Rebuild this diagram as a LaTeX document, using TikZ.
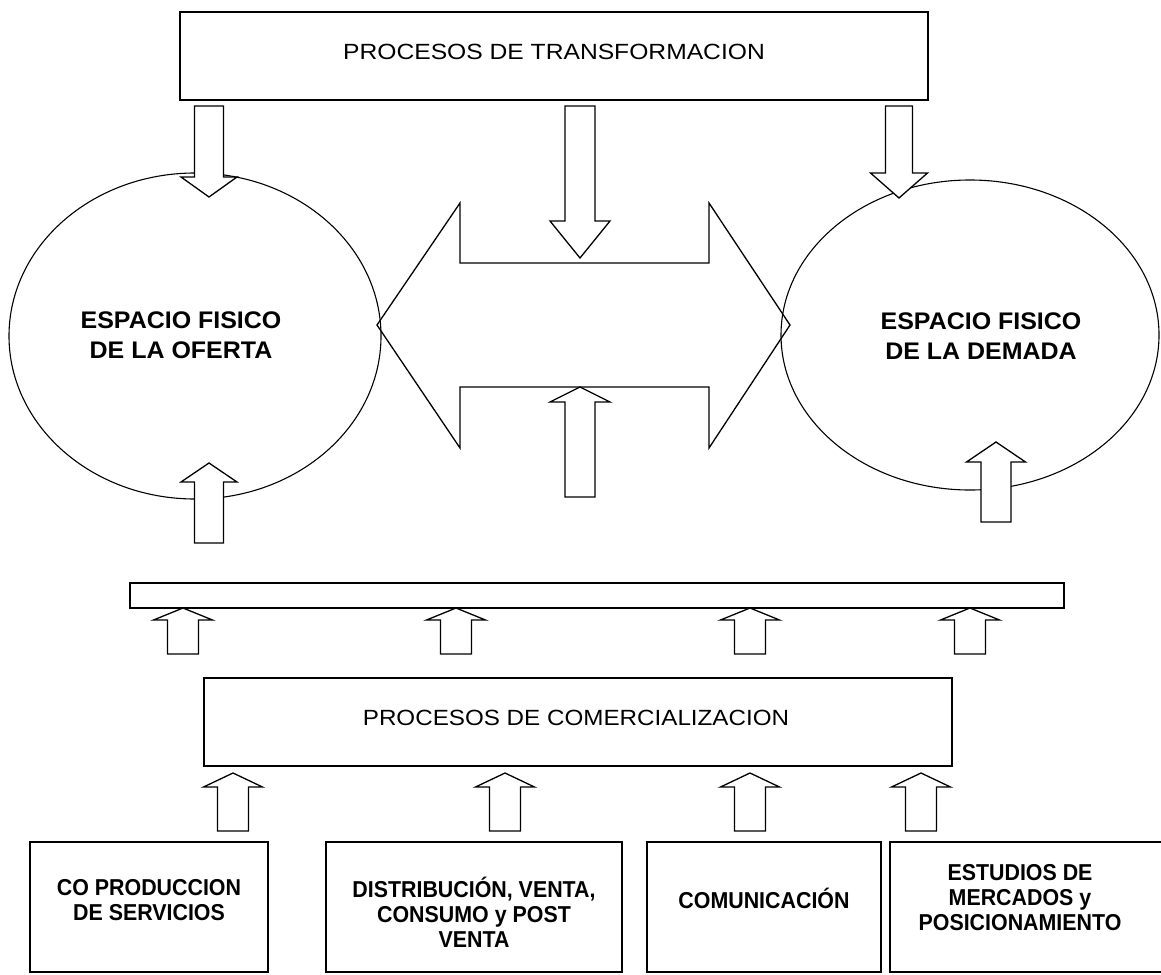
\documentclass[tikz,border=0pt]{standalone}
\usepackage{fontspec}
\setmainfont{Liberation Sans}
\usetikzlibrary{shapes.geometric}
\tikzset{
  blk/.style={draw=black, fill=white, line width=1.3pt, line join=miter},
  box/.style={draw=black, line width=1.3pt, rectangle, inner sep=0pt},
  plain/.style={font=\fontsize{22}{26}\selectfont},
  boldlab/.style={font=\bfseries\fontsize{24}{30}\selectfont, align=center},
  boxlab/.style={font=\bfseries\fontsize{23}{25}\selectfont, align=center},
}
% cx, tip y, head-base y, tail y, head half width, shaft half width
\newcommand\blkarr[6]{%
  \draw[blk] (#1,#2) -- ({#1+#5},#3) -- ({#1+#6},#3) -- ({#1+#6},#4)
    -- ({#1-#6},#4) -- ({#1-#6},#3) -- ({#1-#5},#3) -- cycle;}
\newcommand\narrow[1]{\scalebox{0.93}[1]{#1}}
\begin{document}
\begin{tikzpicture}[x=1pt,y=-1pt]
\useasboundingbox[fill=white] (0,0) rectangle (1161,974);
% top box
\node[box, minimum width=748pt, minimum height=88pt] (tr) at (554,56) {};
\node[plain] (trt) at (554,52) {\scalebox{1.12}[1]{PROCESOS DE TRANSFORMACION}};
% ellipses
\node[draw, line width=1.1pt, ellipse, inner sep=0pt, minimum width=372pt, minimum height=326pt] (of) at (195,336) {};
\node[draw, line width=1.1pt, ellipse, inner sep=0pt, minimum width=378pt, minimum height=310pt] (de) at (970,335) {};
\node[boldlab] (oft) at (181,335) {\scalebox{1.04}[1]{ESPACIO FISICO}\\\scalebox{1.04}[1]{DE LA OFERTA}};
\node[boldlab] (det) at (981,336) {\scalebox{1.04}[1]{ESPACIO FISICO}\\\scalebox{1.04}[1]{DE LA DEMADA}};
% double arrow
\draw[line width=1.3pt, line join=miter] (377,325) -- (460,203) -- (460,263) -- (709,263) -- (709,203) -- (790,325)
  -- (709,448) -- (709,387) -- (460,387) -- (460,448) -- cycle;
% down arrows from top box
\blkarr{209}{197}{177}{106}{28}{14.5}
\blkarr{580}{258}{221}{106}{30}{15}
\blkarr{899}{198}{173}{106}{28.5}{13.5}
% up arrows
\blkarr{580}{387}{402}{497}{30}{15}
\blkarr{209}{463}{482}{543}{28}{14.5}
\blkarr{996}{442}{462}{522}{29.5}{15}
% bar
\node[box, minimum width=934pt, minimum height=25pt] (bar) at (597,595.5) {};
\foreach \cx in {183,456,750,970} {\blkarr{\cx}{608}{620}{654}{29.5}{15.5}}
% comercializacion
\node[box, minimum width=748pt, minimum height=88pt] (co) at (578,722) {};
\node[plain] (cot) at (576,718) {\scalebox{1.1}[1]{PROCESOS DE COMERCIALIZACION}};
\foreach \cx in {233,505,750,921} {\blkarr{\cx}{773}{787}{831}{29.5}{15.5}}
% bottom boxes
\node[box, minimum width=238pt, minimum height=130pt] (b1) at (149,907) {};
\node[box, minimum width=296pt, minimum height=130pt] (b2) at (474,907) {};
\node[box, minimum width=234pt, minimum height=130pt] (b3) at (764,907) {};
\node[box, minimum width=280pt, minimum height=130pt] (b4) at (1030,907) {};
\node[boxlab] (b1t) at (149,900) {\narrow{CO PRODUCCION}\\\narrow{DE SERVICIOS}};
\node[boxlab] (b2t) at (474,912) {\narrow{DISTRIBUCIÓN, VENTA,}\\\narrow{CONSUMO y POST}\\\narrow{VENTA}};
\node[boxlab] (b3t) at (764,898) {\narrow{COMUNICACIÓN}};
\node[boxlab] (b4t) at (1020,898) {\narrow{ESTUDIOS DE}\\\narrow{MERCADOS y}\\\narrow{POSICIONAMIENTO}};
\end{tikzpicture}
\end{document}
